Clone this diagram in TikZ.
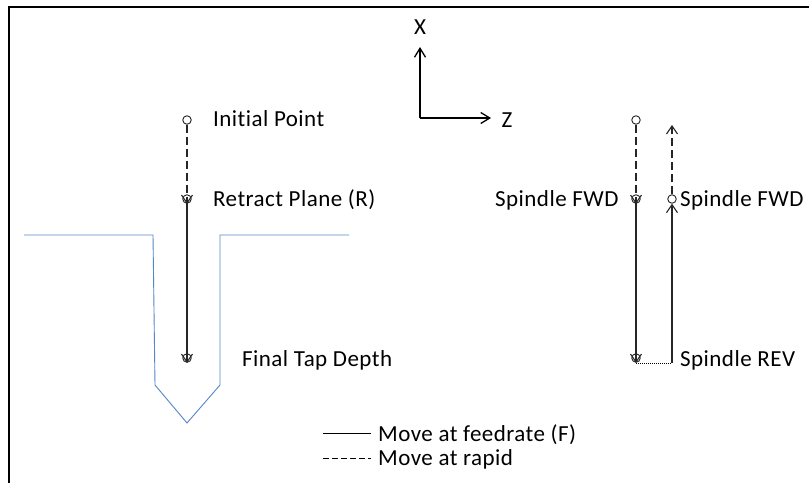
\documentclass[tikz,border=0pt]{standalone}
\usepackage{fontspec}
\setmainfont[Ligatures=NoCommon,LetterSpace=2]{Carlito}
\usetikzlibrary{arrows.meta}
\definecolor{wallblue}{RGB}{85,135,200}
\tikzset{
  lbl/.style={inner sep=0pt,font=\fontsize{23}{24}\selectfont,text=black,anchor=base west},
  pt/.style={circle,draw=black!85,line width=.9pt,fill=none,minimum size=8.5pt,inner sep=0pt},
  barb/.style={-{Straight Barb[length=8pt,width=11pt,line width=1.1pt]}},
  solidmove/.style={draw=black!85,line width=1.2pt,barb},
  rapid/.style={draw=black!85,line width=1.1pt,dash pattern=on 8pt off 4pt},
  rapidarrow/.style={rapid,barb},
  wall/.style={draw=wallblue,line width=.9pt},
  axis/.style={draw=black,line width=1.3pt,-{Straight Barb[length=9pt,width=11pt,line width=1.3pt]}},
}
\begin{document}
\begin{tikzpicture}[x=1pt,y=-1pt]
\useasboundingbox (0,0) rectangle (809,483);
\fill[white] (0,0) rectangle (809,483);
\draw[black,line width=2pt] (9,483) -- (9,7) -- (809,7);

% axes
\coordinate (org) at (420,118);
\coordinate (xe) at (420,47);
\coordinate (ze) at (491,118);
\draw[axis] (org) -- (xe);
\draw[axis] (org) -- (ze);
\node[lbl,anchor=center] (xl) at (420,27) {X};
\node[lbl,anchor=center] (zl) at (507,120) {Z};

% part profile
\draw[wall] (24,235) -- (153,235) -- (155,385) -- (187,423) -- (220,385) -- (220,235) -- (349,235);

% left path
\node[pt] (a) at (187,120) {};
\node[pt] (b) at (187,199) {};
\node[pt] (c) at (187,358) {};
\draw[rapidarrow] (a) -- (187,204);
\draw[solidmove] (187,199) -- (187,363);
\node[lbl] (t1) at (213,126) {Initial Point};
\node[lbl] (t2) at (213,206) {Retract Plane (R)};
\node[lbl] (t3) at (242,366) {Final Tap Depth};

% right path
\node[pt] (d) at (636,120) {};
\node[pt] (e) at (636,199) {};
\node[pt] (f) at (636,358) {};
\node[pt] (g) at (672,199) {};
\coordinate (top) at (672,125);
\coordinate (bot) at (672,363);
\coordinate (fb) at (636,363);
\draw[rapidarrow] (d) -- (636,204);
\draw[solidmove] (636,199) -- (fb);
\draw[black,line width=.7pt,dash pattern=on 1pt off 1pt] (fb) -- (bot);
\draw[solidmove] (bot) -- (g.south);
\draw[rapidarrow] (g) -- (top);
\node[lbl] (t4) at (495,206) {Spindle FWD};
\node[lbl] (t5) at (680,206) {Spindle FWD};
\node[lbl] (t6) at (680,366) {Spindle REV};

% legend
\coordinate (l1) at (323,433);
\coordinate (l2) at (371,433);
\coordinate (l3) at (323,458);
\coordinate (l4) at (371,458);
\draw[black,line width=.8pt] (l1) -- (l2);
\draw[black,line width=.8pt,dash pattern=on 6pt off 3pt] (l3) -- (l4);
\node[lbl] (t7) at (378,441) {Move at feedrate (F)};
\node[lbl] (t8) at (378,465) {Move at rapid};
\end{tikzpicture}
\end{document}
